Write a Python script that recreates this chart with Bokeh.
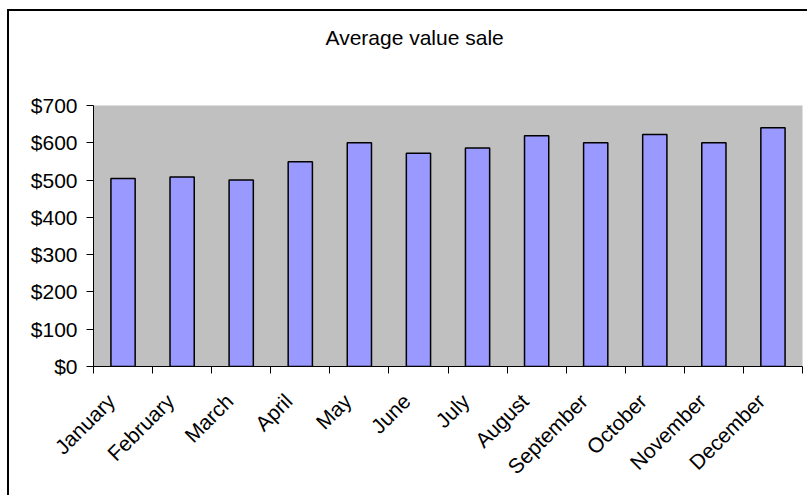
from bokeh.plotting import figure
from bokeh.models import ColumnDataSource, FixedTicker, NumeralTickFormatter, Title
from bokeh.embed import file_html
from bokeh.resources import INLINE
import math

# Monthly average sale value (USD)
months = ["January", "February", "March", "April", "May", "June",
          "July", "August", "September", "October", "November", "December"]
avg_sale = [504, 508, 500, 549, 600, 572, 586, 619, 600, 622, 600, 640]
y_ticks = [0, 100, 200, 300, 400, 500, 600, 700]
TITLE = "Average value sale"

FONT = "Liberation Sans"

positions = [i + 0.5 for i in range(len(months))]
source = ColumnDataSource(data=dict(x=positions, month=months, value=avg_sale))

p = figure(
    width=800, height=486,
    x_range=(0, len(months)), y_range=(0, 700),
    output_backend="svg", toolbar_location=None, tools="",
    min_border_left=84, min_border_right=7,
    min_border_top=94, min_border_bottom=131,
    background_fill_color="#C0C0C0", border_fill_color="white",
    margin=(9, 0, 0, 7),
)
# chart frame: black rule along the left and top edges
p.styles = {"border-left": "2px solid black", "border-top": "2px solid black"}
p.outline_line_color = None
p.grid.visible = False

p.vbar(x="x", top="value", width=0.41, source=source,
       fill_color="#9999FF", line_color="black", line_width=1.5)

# Empty band between the frame and the title
gap = Title(text=" ", text_font_size="1px", standoff=54)
p.add_layout(gap, "above")

# Title (outermost item of the top panel)
p.title.text = TITLE
p.title.align = "left"
p.title.offset = 232
p.title.standoff = 0
p.title.text_font = FONT
p.title.text_font_size = "21px"
p.title.text_font_style = "normal"
p.title.text_color = "black"

# X axis: month names under the bars, tick marks at the category boundaries
label_pos = [x - 0.2 for x in positions]
xa = p.xaxis[0]
xa.ticker = FixedTicker(ticks=label_pos, minor_ticks=list(range(len(months) + 1)))
xa.major_label_overrides = {pos: m for pos, m in zip(label_pos, months)}
xa.major_label_orientation = math.pi / 4
xa.major_tick_out = 0
xa.major_tick_in = 0
xa.minor_tick_out = 7
xa.minor_tick_in = 0
xa.minor_tick_line_color = "black"
xa.axis_line_color = "black"
xa.major_label_text_font = FONT
xa.major_label_text_font_size = "21px"
xa.major_label_text_color = "black"
xa.major_label_standoff = 24

# Y axis: dollar ticks
ya = p.yaxis[0]
ya.ticker = FixedTicker(ticks=y_ticks)
ya.formatter = NumeralTickFormatter(format="$0")
ya.major_tick_out = 7
ya.major_tick_in = 0
ya.minor_tick_out = 0
ya.minor_tick_in = 0
ya.major_tick_line_color = "black"
ya.axis_line_color = "black"
ya.major_label_text_font = FONT
ya.major_label_text_font_size = "21px"
ya.major_label_text_color = "black"
ya.major_label_standoff = 9

open("out.html", "w").write(file_html(p, INLINE))
